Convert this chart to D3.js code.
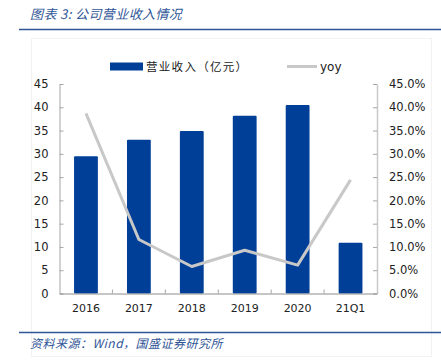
<!DOCTYPE html>
<html lang="zh">
  <head>
    <meta charset="UTF-8" />
    <title>公司营业收入情况</title>
    <script src="https://d3js.org/d3.v7.min.js"></script>
    <style>
      body { margin: 0; background: #fff; }
      svg { display: block; }
      .tick text { font-family: "DejaVu Sans", sans-serif; fill: #222; }
      .cjk { font-family: "Noto Sans CJK SC", sans-serif; }
    </style>
  </head>
  <body>
    <svg id="chart" width="441" height="360"></svg>
    <script>
      // data
      const years = ["2016", "2017", "2018", "2019", "2020", "21Q1"];
      const revenue = [29.5, 33.0, 34.9, 38.2, 40.5, 10.9]; // 亿元
      const yoy = [0.387, 0.116, 0.058, 0.093, 0.061, 0.244];
      const leftTicks = [0, 5, 10, 15, 20, 25, 30, 35, 40, 45];
      const rightTicks = [0, 0.05, 0.1, 0.15, 0.2, 0.25, 0.3, 0.35, 0.4, 0.45];

      const width = 441, height = 360;
      const margin = { top: 84, right: 64, bottom: 66.5, left: 59.5 };
      const blue = "#003f98";
      const gray = "#c8c8c8";
      const headBlue = "#2f5597";

      const svg = d3.select("#chart");

      // faint frame of the chart area
      svg.append("rect")
        .attr("x", 31.5).attr("y", 38.5)
        .attr("width", 400).attr("height", 318)
        .attr("fill", "none").attr("stroke", "#f2f2f2");

      // title + header rule
      svg.append("text")
        .attr("class", "cjk")
        .attr("x", 30).attr("y", 19)
        .attr("font-size", 13).attr("font-style", "italic")
        .attr("letter-spacing", 0.4)
        .attr("fill", headBlue)
        .text("图表 3:  公司营业收入情况");
      svg.append("line")
        .attr("x1", 19).attr("x2", 441).attr("y1", 29.5).attr("y2", 29.5)
        .attr("stroke", headBlue).attr("stroke-width", 1.5);

      // footer
      svg.append("line")
        .attr("x1", 19).attr("x2", 441).attr("y1", 332.5).attr("y2", 332.5)
        .attr("stroke", headBlue).attr("stroke-width", 1.5);
      svg.append("text")
        .attr("class", "cjk")
        .attr("x", 30).attr("y", 348)
        .attr("font-size", 12).attr("font-style", "italic")
        .attr("letter-spacing", 0.5)
        .attr("fill", headBlue)
        .text("资料来源：Wind，国盛证券研究所");

      // scales
      const x = d3.scaleBand()
        .domain(years)
        .range([margin.left, width - margin.right])
        .paddingInner(0.55).paddingOuter(0.275);
      const xStep = d3.scaleBand().domain(years).range([margin.left, width - margin.right]);

      const yL = d3.scaleLinear().domain([0, 45]).range([height - margin.bottom, margin.top]);
      const yR = d3.scaleLinear().domain([0, 0.45]).range([height - margin.bottom, margin.top]);

      // bars
      svg.selectAll(".bar")
        .data(years)
        .join("rect")
        .attr("class", "bar")
        .attr("x", d => x(d))
        .attr("y", (d, i) => yL(revenue[i]))
        .attr("width", x.bandwidth())
        .attr("height", (d, i) => yL(0) - yL(revenue[i]))
        .attr("fill", blue)
        .attr("rx", 1);

      // yoy line
      const line = d3.line()
        .x((d, i) => xStep(years[i]) + xStep.bandwidth() / 2)
        .y(d => yR(d));
      svg.append("path")
        .datum(yoy)
        .attr("d", line)
        .attr("fill", "none")
        .attr("stroke", gray)
        .attr("stroke-width", 3)
        .attr("stroke-linejoin", "round");

      // left axis
      const gL = svg.append("g")
        .attr("transform", `translate(${margin.left},0)`)
        .call(d3.axisLeft(yL).tickValues(leftTicks).tickSizeInner(-4).tickSizeOuter(0).tickPadding(11));
      gL.selectAll("text").attr("font-size", 11.5);
      gL.select(".domain").attr("stroke", "#a6a6a6");
      gL.selectAll(".tick line").attr("stroke", "#a6a6a6");

      // right axis
      const gR = svg.append("g")
        .attr("transform", `translate(${width - margin.right},0)`)
        .call(d3.axisRight(yR).tickValues(rightTicks).tickFormat(d3.format(".1%"))
          .tickSizeInner(-4).tickSizeOuter(0).tickPadding(12));
      gR.selectAll("text").attr("font-size", 11.5);
      gR.select(".domain").attr("stroke", "#c8c8c8").attr("stroke-width", 1.5);
      gR.selectAll(".tick line").attr("stroke", "#a6a6a6");

      // bottom axis
      const gB = svg.append("g")
        .attr("transform", `translate(0,${height - margin.bottom})`)
        .call(d3.axisBottom(xStep).tickSize(0).tickPadding(11));
      gB.selectAll("text").attr("font-size", 11);
      gB.select(".domain").attr("stroke", "#8c8c8c");
      // category separator ticks
      gB.selectAll(".sep")
        .data(years.slice(1))
        .join("line")
        .attr("class", "sep")
        .attr("x1", d => xStep(d)).attr("x2", d => xStep(d))
        .attr("y1", 0).attr("y2", -4)
        .attr("stroke", "#a6a6a6");

      // legend
      const lg = svg.append("g");
      lg.append("rect")
        .attr("x", 110).attr("y", 62.5).attr("width", 33).attr("height", 8)
        .attr("fill", blue);
      lg.append("text")
        .attr("class", "cjk")
        .attr("x", 146).attr("y", 71)
        .attr("font-size", 11.5).attr("fill", "#222")
        .attr("letter-spacing", 1.3)
        .text("营业收入（亿元）");
      lg.append("line")
        .attr("x1", 287).attr("x2", 317).attr("y1", 66.5).attr("y2", 66.5)
        .attr("stroke", gray).attr("stroke-width", 3);
      lg.append("text")
        .attr("x", 320).attr("y", 71)
        .attr("font-family", "DejaVu Sans, sans-serif")
        .attr("font-size", 12).attr("fill", "#222")
        .text("yoy");
    </script>
  </body>
</html>
